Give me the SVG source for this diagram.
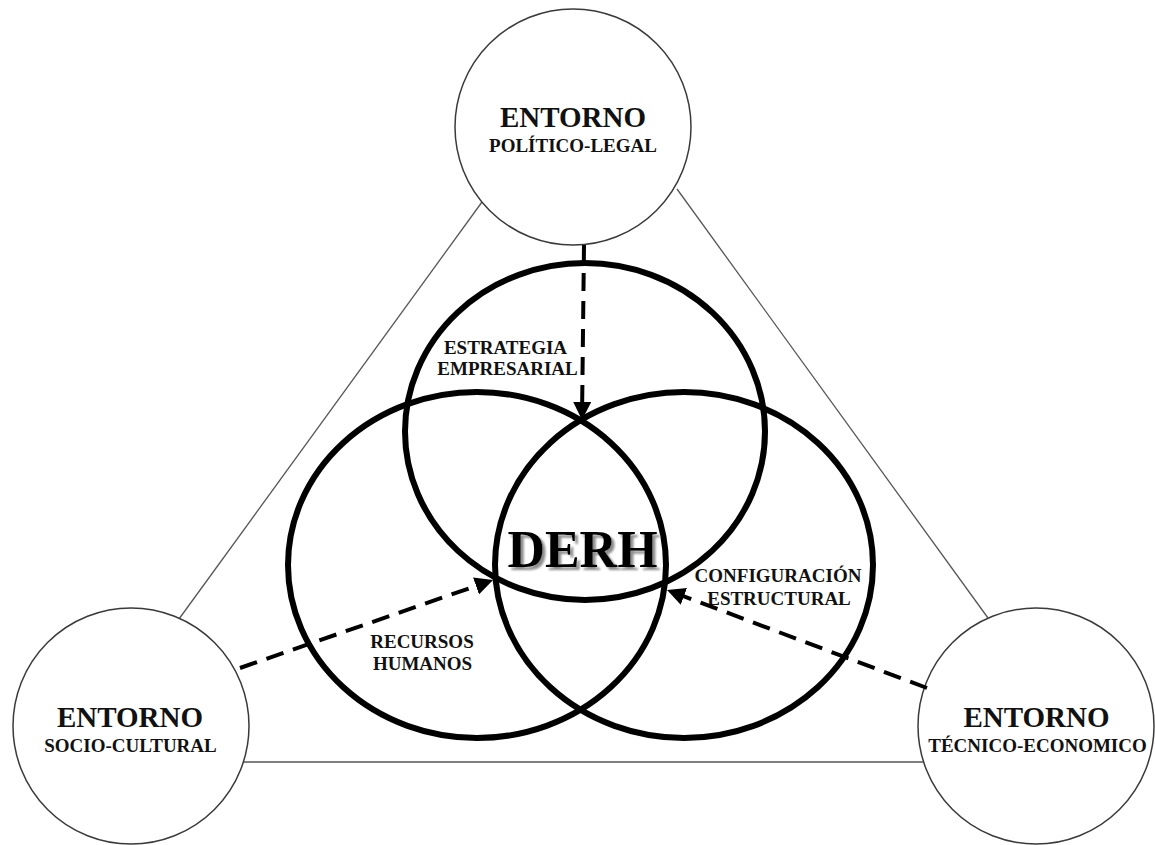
<svg xmlns="http://www.w3.org/2000/svg" width="1155" height="845" viewBox="0 0 1155 845">
<style>
.env{fill:#fff;stroke:#3a3a3a;stroke-width:1.5}
.tri{stroke:#555;stroke-width:1.3;fill:none}
.venn{fill:none;stroke:#000;stroke-width:6}
.dash{fill:none;stroke:#000;stroke-width:4;stroke-dasharray:18 10}
text{font-family:"Liberation Serif","Times New Roman",serif;font-weight:bold;text-anchor:middle;fill:#111}
.big{font-size:29px}
.sub{font-size:19px}
.lbl{font-size:19px}
.derh{font-size:52px;fill:#000}
</style>
<defs>
<marker id="arrow" markerUnits="userSpaceOnUse" markerWidth="18" markerHeight="18" refX="8" refY="9" orient="auto">
<path d="M0,0 L18,9 L0,18 z" fill="#000"/>
</marker>
<filter id="shadow" x="-10%" y="-20%" width="130%" height="150%">
<feGaussianBlur in="SourceAlpha" stdDeviation="0.8" result="b"/>
<feOffset in="b" dx="2.5" dy="2.5" result="o"/>
<feFlood flood-color="#8c8c8c"/>
<feComposite in2="o" operator="in" result="s"/>
<feMerge><feMergeNode in="s"/><feMergeNode in="SourceGraphic"/></feMerge>
</filter>
</defs>
<rect width="1155" height="845" fill="#fff"/>
<g id="triangle">
<line class="tri" x1="482" y1="202" x2="179" y2="619"/>
<line class="tri" x1="677" y1="189" x2="988" y2="618"/>
<line class="tri" x1="244" y1="762" x2="923" y2="762"/>
</g>
<g id="entorno-politico">
<circle class="env" cx="573" cy="127" r="118"/>
<text class="big" x="573" y="127">ENTORNO</text>
<text class="sub" x="573" y="152">POLÍTICO-LEGAL</text>
</g>
<g id="entorno-socio">
<circle class="env" cx="131" cy="726" r="118"/>
<text class="big" x="130" y="727">ENTORNO</text>
<text class="sub" x="130.5" y="752">SOCIO-CULTURAL</text>
</g>
<g id="entorno-tecnico">
<circle class="env" cx="1036" cy="726" r="118"/>
<text class="big" x="1036.5" y="727">ENTORNO</text>
<text class="sub" x="1037.5" y="752">TÉCNICO-ECONOMICO</text>
</g>
<g id="estrategia">
<ellipse class="venn" cx="585" cy="431.5" rx="180" ry="168.5"/>
<text class="lbl" x="505.5" y="354">ESTRATEGIA</text>
<text class="lbl" x="507.5" y="375">EMPRESARIAL</text>
</g>
<g id="recursos">
<ellipse class="venn" cx="477" cy="565" rx="189" ry="173"/>
<text class="lbl" x="422" y="648">RECURSOS</text>
<text class="lbl" x="422.5" y="670">HUMANOS</text>
</g>
<g id="configuracion">
<ellipse class="venn" cx="684" cy="565" rx="189" ry="173"/>
<text class="lbl" x="778" y="582">CONFIGURACIÓN</text>
<text class="lbl" x="779" y="605">ESTRUCTURAL</text>
</g>
<g id="derh">
<text class="derh" x="582.5" y="567" filter="url(#shadow)">DERH</text>
</g>
<g id="connectors">
<line class="dash" x1="584" y1="245" x2="582.1" y2="410" marker-end="url(#arrow)"/>
<line class="dash" x1="240" y1="668" x2="483.6" y2="583.3" marker-end="url(#arrow)"/>
<line class="dash" x1="927" y1="688" x2="676.4" y2="593.5" marker-end="url(#arrow)"/>
</g>
</svg>
